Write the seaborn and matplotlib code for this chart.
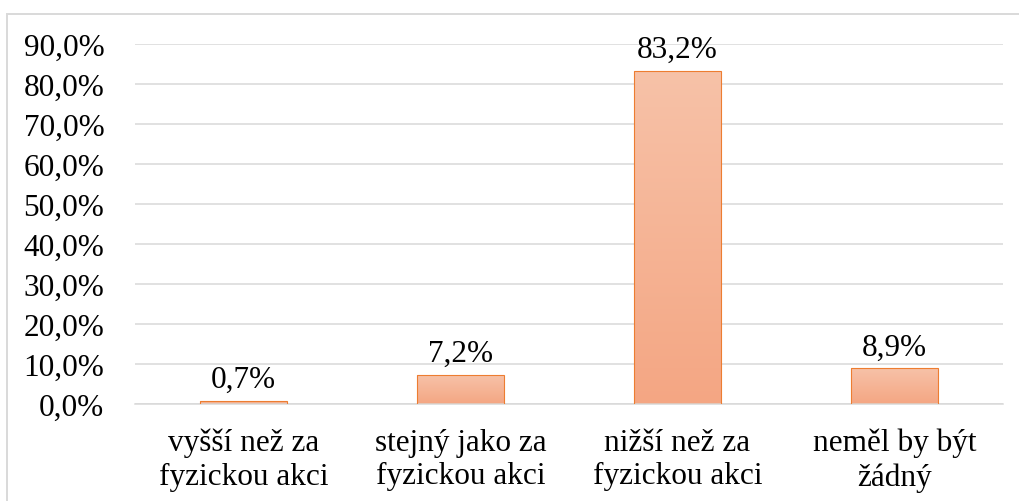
import numpy as np
import pandas as pd
import matplotlib
matplotlib.use("Agg")
import matplotlib.pyplot as plt
import seaborn as sns
from matplotlib.colors import LinearSegmentedColormap
from matplotlib.patches import Rectangle
from matplotlib.ticker import FixedLocator, FuncFormatter

categories = [
    "vyšší než za\nfyzickou akci",
    "stejný jako za\nfyzickou akci",
    "nižší než za\nfyzickou akci",
    "neměl by být\nžádný",
]
values = [0.7, 7.2, 83.2, 8.9]
y_ticks = [0, 10, 20, 30, 40, 50, 60, 70, 80, 90]

sns.set_theme(style="white")
plt.rcParams["font.family"] = ["Liberation Serif", "DejaVu Serif"]

FS = 22.5
GRID = "#D9D9D9"
EDGE = "#ED7D31"

fig = plt.figure(figsize=(10.2, 5.02), dpi=100)
ax = fig.add_axes([135 / 1020, 1 - 405 / 502, (1003 - 135) / 1020, 360 / 502])

df = pd.DataFrame({"kat": categories, "hodnota": values})
sns.barplot(data=df, x="kat", y="hodnota", ax=ax, width=0.4,
            color="#F5B394", edgecolor=EDGE, linewidth=0.8, saturation=1)

ax.set_xlim(-0.5, 3.5)
ax.set_ylim(0, 90)
ax.set_xlabel("")
ax.set_ylabel("")

# vertical gradient inside each bar
cmap = LinearSegmentedColormap.from_list("oranzova", ["#F4A683", "#F7C2A8"])
grad = np.linspace(0, 1, 256).reshape(-1, 1)
for bar in ax.patches:
    x0, y0 = bar.get_x(), bar.get_y()
    w, h = bar.get_width(), bar.get_height()
    im = ax.imshow(grad, cmap=cmap, origin="lower", aspect="auto",
                   extent=[x0, x0 + w, y0, y0 + h], zorder=bar.get_zorder() - 0.1)
    im.set_clip_path(bar)
    bar.set_facecolor("none")
    bar.set_zorder(3)
ax.set_xlim(-0.5, 3.5)
ax.set_ylim(0, 90)

# value labels above bars
for i, v in enumerate(values):
    ax.annotate(f"{v:.1f}%".replace(".", ","), xy=(i, v), xytext=(0, 5),
                textcoords="offset points", ha="center", va="bottom",
                fontsize=FS, color="black")

ax.yaxis.set_major_locator(FixedLocator(y_ticks))
ax.yaxis.set_major_formatter(FuncFormatter(lambda v, p: f"{v:.1f}%".replace(".", ",")))
ax.grid(axis="y", color=GRID, linewidth=1.1, zorder=0)
ax.set_axisbelow(True)

for s in ["top", "right", "left"]:
    ax.spines[s].set_visible(False)
ax.spines["bottom"].set_color(GRID)
ax.spines["bottom"].set_linewidth(1.1)

ax.set_xticks([-0.5, 0.5, 1.5, 2.5, 3.5], minor=True)
ax.tick_params(axis="x", which="minor", length=5.5, width=1.1, color=GRID, direction="out")
ax.tick_params(axis="x", which="major", length=0, pad=17, labelsize=FS, labelcolor="black")
ax.tick_params(axis="y", which="major", length=0, pad=22, labelsize=FS, labelcolor="black")
for lbl in ax.get_xticklabels():
    lbl.set_linespacing(1.22)

# chart area frame
fig.patches.append(Rectangle((7.5 / 1020, -0.1), 1.2, 1.1 - 15 / 502,
                             transform=fig.transFigure, fill=False,
                             edgecolor=GRID, linewidth=1.4))

fig.savefig("out.png", dpi=100, facecolor="white")
